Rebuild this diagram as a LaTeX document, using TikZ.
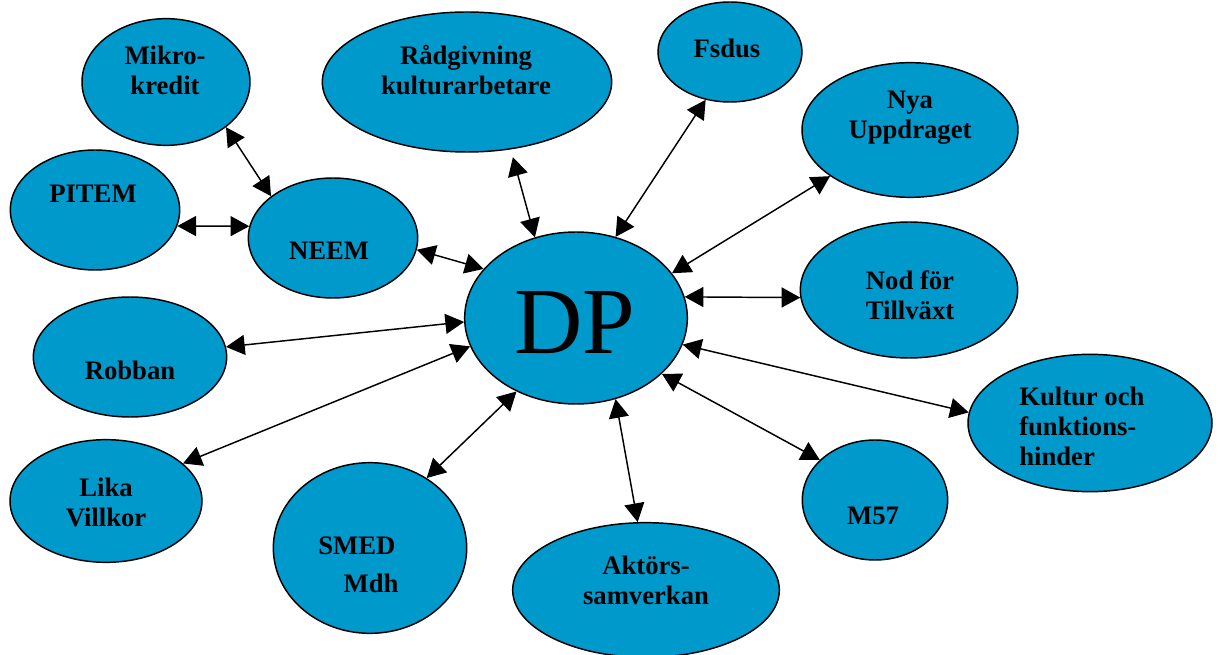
\documentclass[tikz,border=0pt]{standalone}
\usepackage{fontspec}
\setmainfont{Liberation Serif}
\usetikzlibrary{shapes.geometric,arrows.meta}
\definecolor{dpblue}{HTML}{0099CC}
\begin{document}
\begin{tikzpicture}[x=0.75pt,y=-0.75pt,
  blob/.style={ellipse,draw,line width=1.1pt,fill=dpblue,inner sep=0pt},
  txt/.style={font=\bfseries\fontsize{20}{22.5}\selectfont,align=center,inner sep=0pt},
  link/.style={line width=1.1pt,{Triangle[length=14pt,width=15pt]}-{Triangle[length=14pt,width=15pt]}}]
\useasboundingbox (0,0) rectangle (1220,655);
% the ellipses
\node [blob,minimum width=126pt,minimum height=95pt] (mikro) at (166,82) {};
\node [blob,minimum width=217pt,minimum height=105pt] (radgiv) at (467,82) {};
\node [blob,minimum width=108pt,minimum height=75pt] (fsdus) at (730,52) {};
\node [blob,minimum width=162pt,minimum height=101pt] (nya) at (910,130) {};
\node [blob,minimum width=127pt,minimum height=90pt] (pitem) at (95,210) {};
\node [blob,minimum width=127pt,minimum height=90pt] (neem) at (333,238) {};
\node [blob,minimum width=167pt,minimum height=129pt] (dp) at (576,318) {};
\node [blob,minimum width=163pt,minimum height=102pt] (nod) at (909,290) {};
\node [blob,minimum width=145pt,minimum height=90pt] (robban) at (130,357) {};
\node [blob,minimum width=183pt,minimum height=103pt] (kultur) at (1090,423) {};
\node [blob,minimum width=144pt,minimum height=92pt] (lika) at (106,501) {};
\node [blob,minimum width=145pt,minimum height=128pt] (smed) at (370,548) {};
\node [blob,minimum width=109pt,minimum height=90pt] (mfs) at (875,500) {};
\node [blob,minimum width=200pt,minimum height=101pt] (aktor) at (646,590) {};
% the texts
\node [txt] (mikrotext) at (165,70) {Mikro-\\kredit};
\node [txt] (radgivtext) at (466,70) {Rådgivning\\kulturarbetare};
\node [txt] (fsdustext) at (727,48) {Fsdus};
\node [txt] (nyatext) at (910,118) {Nya\\Uppdraget};
\node [txt] (pitemtext) at (93,194) {PITEM};
\node [txt] (neemtext) at (329,251) {NEEM};
\node [font=\fontsize{71}{75}\selectfont,inner sep=0pt] (dptext) at (575,323) {DP};
\node [txt] (nodtext) at (910,295) {Nod för\\Tillväxt};
\node [txt] (robbantext) at (130,370) {Robban};
\node [txt,align=left,anchor=west] (kulturtext) at (1019,426) {Kultur och\\funktions-\\hinder};
\node [txt] (likatext) at (106,502) {Lika\\Villkor};
\node [txt,align=left,anchor=west] (smedtext) at (318,565) {SMED\\[6pt]\hspace*{19pt}Mdh};
\node [txt] (mfstext) at (873,516) {M57};
\node [txt] (aktortext) at (646,580) {Aktörs-\\samverkan};
% the arrows
\draw [link] (mikro.-37) -- (neem.146);
\draw [link] (pitem.-11) -- (neem.172);
\draw [link,shorten <=6pt] (radgiv.-57) -- (dp.117);
\draw [link] (fsdus.-117) -- (dp.64);
\draw [link] (nya.-150) -- (dp.25);
\draw [link] (neem.-8) -- (dp.152);
\draw [link] (dp.11) -- (nod.-176);
\draw [link] (robban.6) -- (dp.-178);
\draw [link] (lika.26) -- (dp.195);
\draw [link] (smed.51) -- (dp.-129);
\draw [link] (aktor.97) -- (dp.-64);
\draw [link] (mfs.144) -- (dp.-33);
\draw [link] (kultur.175) -- (dp.-14);
\end{tikzpicture}
\end{document}
